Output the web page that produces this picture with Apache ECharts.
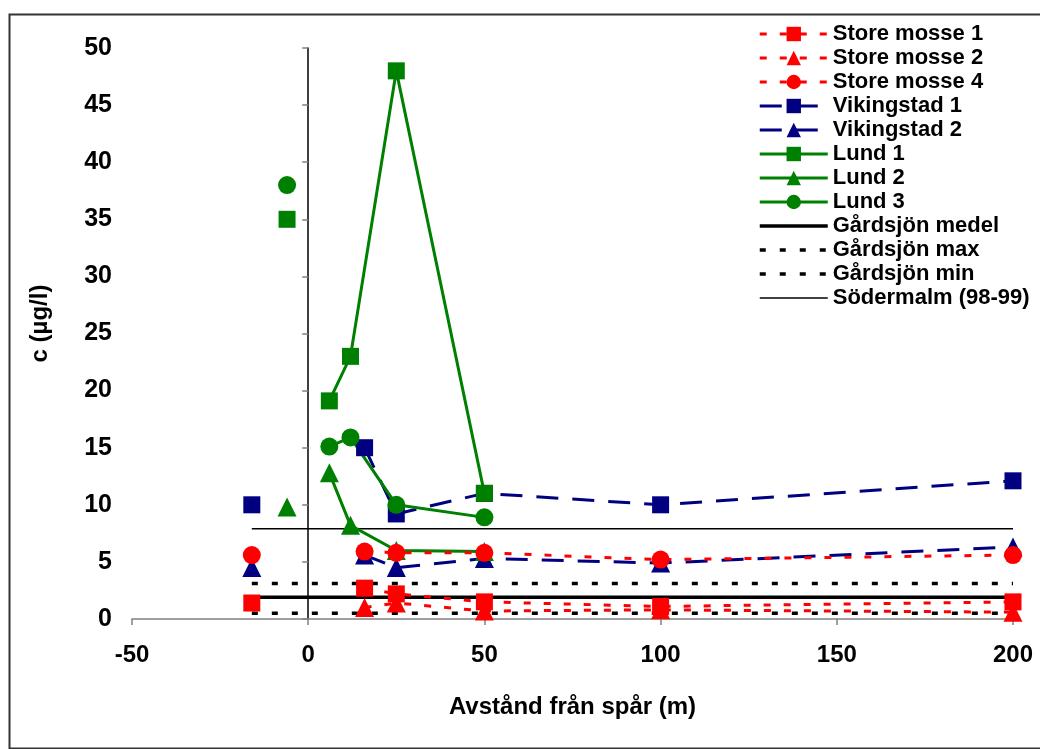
<!DOCTYPE html>
<html>
<head>
<meta charset="utf-8">
<script src="https://cdn.jsdelivr.net/npm/echarts@6/dist/echarts.min.js"></script>
<style>
html,body{margin:0;padding:0;background:#fff;}
#chart{width:1040px;height:749px;}
</style>
</head>
<body>
<div id="chart"></div>
<script>
// ---- data (x = distance from track in m, y = concentration µg/l) ----
const GAP = ['-', '-'];
const storeMosse1 = [[-16, 1.4], GAP, [16, 2.7], [25, 2.2], [50, 1.5], [100, 1.1], [200, 1.5]];
const storeMosse2 = [[16, 1.0], [25, 1.4], [50, 0.7], [100, 0.8], [200, 0.6]];
const storeMosse4 = [[-16, 5.6], GAP, [16, 5.9], [25, 5.8], [50, 5.8], [100, 5.2], [200, 5.6]];
const vikingstad1 = [[-16, 10.0], GAP, [16, 15.0], [25, 9.2], [50, 11.0], [100, 10.0], [200, 12.1]];
const vikingstad2 = [[-16, 4.5], GAP, [16, 5.6], [25, 4.5], [50, 5.3], [100, 4.9], [200, 6.3]];
const lund1 = [[-6, 35.0], GAP, [6, 19.1], [12, 23.0], [25, 48.0], [50, 11.0]];
const lund2 = [[-6, 9.8], GAP, [6, 12.8], [12, 8.2], [25, 6.0], [50, 5.9]];
const lund3 = [[-6, 38.0], GAP, [6, 15.1], [12, 15.9], [25, 10.0], [50, 8.9]];
const refSpan = [-16, 200];
const gardsjonMedel = 1.9;
const gardsjonMax = 3.1;
const gardsjonMin = 0.5;
const sodermalm = 7.9;
const xTicks = [-50, 0, 50, 100, 150, 200];
const yTicks = [0, 5, 10, 15, 20, 25, 30, 35, 40, 45, 50];
const legendNames = ['Store mosse 1', 'Store mosse 2', 'Store mosse 4', 'Vikingstad 1', 'Vikingstad 2',
  'Lund 1', 'Lund 2', 'Lund 3', 'Gårdsjön medel', 'Gårdsjön max', 'Gårdsjön min', 'Södermalm (98-99)'];

const RED = '#FF0000', NAVY = '#000080', GREEN = '#008000', BLACK = '#000000';
const FONT = '"Liberation Sans", Arial, sans-serif';

function refLine(name, v, width, type) {
  return {
    name, type: 'line', symbol: 'none', silent: true,
    data: refSpan.map(x => [x, v]),
    lineStyle: { color: BLACK, width, type },
    itemStyle: { color: BLACK }
  };
}
function dataLine(name, data, color, symbol, size, lineType, width) {
  return {
    name, type: 'line', data, symbol, symbolSize: size, connectNulls: false,
    lineStyle: { color, width, type: lineType },
    itemStyle: { color, opacity: 1 }
  };
}
const redDash = [7, 13];
const blackDash = [6, 14];
const navyDash = [22, 14];

const series = [
  refLine('Södermalm (98-99)', sodermalm, 1.5, 'solid'),
  refLine('Gårdsjön max', gardsjonMax, 3.5, blackDash),
  refLine('Gårdsjön min', gardsjonMin, 3.5, blackDash),
  refLine('Gårdsjön medel', gardsjonMedel, 3.5, 'solid'),
  dataLine('Vikingstad 1', vikingstad1, NAVY, 'rect', 17, navyDash, 3),
  dataLine('Vikingstad 2', vikingstad2, NAVY, 'triangle', 19, navyDash, 3),
  dataLine('Lund 1', lund1, GREEN, 'rect', 17, 'solid', 3),
  dataLine('Lund 2', lund2, GREEN, 'triangle', 19, 'solid', 3),
  dataLine('Lund 3', lund3, GREEN, 'circle', 18, 'solid', 3),
  dataLine('Store mosse 4', storeMosse4, RED, 'circle', 18, redDash, 3),
  dataLine('Store mosse 2', storeMosse2, RED, 'triangle', 19, redDash, 3),
  dataLine('Store mosse 1', storeMosse1, RED, 'rect', 17, redDash, 3)
];

const legendData = legendNames.map(n => {
  if (n.indexOf('Södermalm') === 0) return { name: n, itemStyle: { opacity: 0 }, lineStyle: { width: 1.5 } };
  if (n.indexOf('Gårdsjön') === 0) return { name: n, itemStyle: { opacity: 0 }, lineStyle: { width: 3.5 } };
  return { name: n };
});

const chart = echarts.init(document.getElementById('chart'), null, { renderer: 'canvas' });
chart.setOption({
  animation: false,
  backgroundColor: '#ffffff',
  textStyle: { fontFamily: FONT },
  graphic: [{
    type: 'rect', left: 7, top: 12, silent: true, z: -10,
    shape: { width: 1040, height: 734 },
    style: { fill: 'none', stroke: '#333333', lineWidth: 2 }
  }],
  grid: { left: 132, right: 27, top: 48, bottom: 130, containLabel: false, outerBoundsMode: 'none' },
  legend: {
    orient: 'vertical', left: 753, top: 17,
    itemWidth: 68, itemHeight: 18, itemGap: 0,
    data: legendData,
    lineStyle: { width: 3 },
    textStyle: { fontFamily: FONT, fontWeight: 'bold', fontSize: 22, color: BLACK, lineHeight: 24 },
    selectedMode: false
  },
  xAxis: {
    type: 'value', min: xTicks[0], max: xTicks[xTicks.length - 1], interval: 50,
    name: 'Avstånd från spår (m)', nameLocation: 'middle', nameGap: 76,
    nameTextStyle: { fontFamily: FONT, fontWeight: 'bold', fontSize: 24, color: BLACK },
    axisLine: { show: true, onZero: false, lineStyle: { color: '#808080', width: 1.5 } },
    axisTick: { show: true, inside: false, length: 6, lineStyle: { color: '#808080', width: 1.5 } },
    axisLabel: { margin: 24, fontFamily: FONT, fontWeight: 'bold', fontSize: 24, color: BLACK },
    splitLine: { show: false }
  },
  yAxis: {
    type: 'value', min: yTicks[0], max: yTicks[yTicks.length - 1], interval: 5,
    name: 'c (µg/l)', nameLocation: 'middle', nameGap: 80,
    nameTextStyle: { fontFamily: FONT, fontWeight: 'bold', fontSize: 24, color: BLACK, padding: [0, 0, 0, 20] },
    axisLine: { show: true, onZero: true, lineStyle: { color: BLACK, width: 1.5 } },
    axisTick: { show: true, inside: false, length: 6, lineStyle: { color: '#808080', width: 1.5 } },
    axisLabel: { margin: 20, fontFamily: FONT, fontWeight: 'bold', fontSize: 25, color: BLACK },
    splitLine: { show: false }
  },
  series
});
</script>
</body>
</html>
